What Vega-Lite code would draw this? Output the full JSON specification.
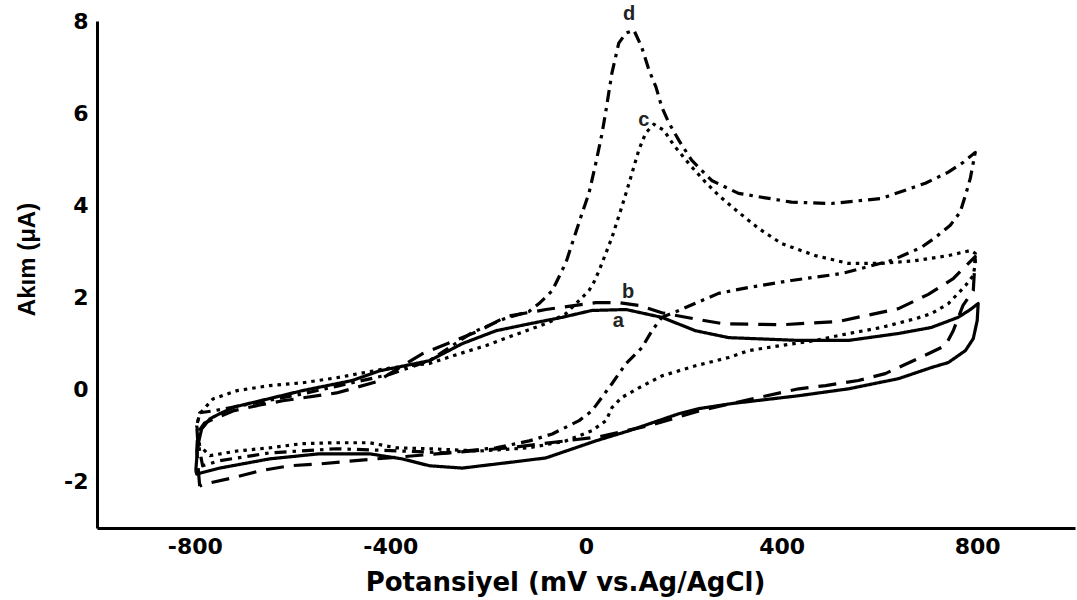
{
  "$schema": "https://vega.github.io/schema/vega-lite/v6.json",
  "autosize": "none",
  "width": 978,
  "height": 507,
  "padding": {"left": 97, "top": 21, "right": 2, "bottom": 72},
  "background": "white",
  "config": {
    "view": {"stroke": null},
    "axis": {"grid": false, "ticks": false, "domainColor": "#000", "domainWidth": 3, "labelColor": "#000", "titleColor": "#000", "labelFont": "DejaVu Sans", "labelFontWeight": "bold", "labelFontSize": 22}
  },
  "datasets": {
    "cv": [
      {"c":"a","i":1,"v":-798,"I":-1.76},{"c":"a","i":2,"v":-794,"I":-1.22},{"c":"a","i":3,"v":-786,"I":-0.85},{"c":"a","i":4,"v":-769,"I":-0.63},{"c":"a","i":5,"v":-749,"I":-0.52},{"c":"a","i":6,"v":-718,"I":-0.37},{"c":"a","i":7,"v":-682,"I":-0.28},{"c":"a","i":8,"v":-580,"I":-0.02},{"c":"a","i":9,"v":-478,"I":0.2},{"c":"a","i":10,"v":-422,"I":0.41},{"c":"a","i":11,"v":-320,"I":0.63},{"c":"a","i":12,"v":-253,"I":1.0},{"c":"a","i":13,"v":-184,"I":1.28},{"c":"a","i":14,"v":-116,"I":1.43},{"c":"a","i":15,"v":-49,"I":1.57},{"c":"a","i":16,"v":12,"I":1.72},{"c":"a","i":17,"v":82,"I":1.74},{"c":"a","i":18,"v":155,"I":1.57},{"c":"a","i":19,"v":224,"I":1.28},{"c":"a","i":20,"v":292,"I":1.13},{"c":"a","i":21,"v":435,"I":1.07},{"c":"a","i":22,"v":537,"I":1.07},{"c":"a","i":23,"v":639,"I":1.22},{"c":"a","i":24,"v":706,"I":1.35},{"c":"a","i":25,"v":761,"I":1.57},{"c":"a","i":26,"v":786,"I":1.74},{"c":"a","i":27,"v":802,"I":1.87},{"c":"a","i":28,"v":800,"I":1.5},{"c":"a","i":29,"v":792,"I":1.11},{"c":"a","i":30,"v":776,"I":0.85},{"c":"a","i":31,"v":741,"I":0.59},{"c":"a","i":32,"v":706,"I":0.48},{"c":"a","i":33,"v":639,"I":0.24},{"c":"a","i":34,"v":537,"I":0.02},{"c":"a","i":35,"v":435,"I":-0.13},{"c":"a","i":36,"v":298,"I":-0.3},{"c":"a","i":37,"v":231,"I":-0.41},{"c":"a","i":38,"v":190,"I":-0.52},{"c":"a","i":39,"v":88,"I":-0.89},{"c":"a","i":40,"v":20,"I":-1.11},{"c":"a","i":41,"v":-82,"I":-1.48},{"c":"a","i":42,"v":-151,"I":-1.57},{"c":"a","i":43,"v":-253,"I":-1.7},{"c":"a","i":44,"v":-320,"I":-1.65},{"c":"a","i":45,"v":-376,"I":-1.5},{"c":"a","i":46,"v":-443,"I":-1.39},{"c":"a","i":47,"v":-545,"I":-1.39},{"c":"a","i":48,"v":-647,"I":-1.5},{"c":"a","i":49,"v":-749,"I":-1.7},{"c":"a","i":50,"v":-796,"I":-1.83},{"c":"a","i":51,"v":-798,"I":-1.76},

      {"c":"b","i":1,"v":-790,"I":-2.09},{"c":"b","i":2,"v":-796,"I":-1.33},{"c":"b","i":3,"v":-794,"I":-0.93},{"c":"b","i":4,"v":-780,"I":-0.72},{"c":"b","i":5,"v":-722,"I":-0.46},{"c":"b","i":6,"v":-667,"I":-0.33},{"c":"b","i":7,"v":-620,"I":-0.24},{"c":"b","i":8,"v":-510,"I":-0.07},{"c":"b","i":9,"v":-429,"I":0.17},{"c":"b","i":10,"v":-335,"I":0.78},{"c":"b","i":11,"v":-218,"I":1.28},{"c":"b","i":12,"v":-163,"I":1.59},{"c":"b","i":13,"v":-82,"I":1.74},{"c":"b","i":14,"v":20,"I":1.89},{"c":"b","i":15,"v":67,"I":1.89},{"c":"b","i":16,"v":108,"I":1.83},{"c":"b","i":17,"v":155,"I":1.67},{"c":"b","i":18,"v":231,"I":1.52},{"c":"b","i":19,"v":282,"I":1.43},{"c":"b","i":20,"v":400,"I":1.41},{"c":"b","i":21,"v":516,"I":1.48},{"c":"b","i":22,"v":639,"I":1.76},{"c":"b","i":23,"v":700,"I":2.07},{"c":"b","i":24,"v":751,"I":2.41},{"c":"b","i":25,"v":778,"I":2.7},{"c":"b","i":26,"v":796,"I":2.89},{"c":"b","i":27,"v":792,"I":2.15},{"c":"b","i":28,"v":771,"I":1.83},{"c":"b","i":29,"v":751,"I":1.28},{"c":"b","i":30,"v":735,"I":0.96},{"c":"b","i":31,"v":700,"I":0.78},{"c":"b","i":32,"v":612,"I":0.35},{"c":"b","i":33,"v":557,"I":0.2},{"c":"b","i":34,"v":490,"I":0.09},{"c":"b","i":35,"v":435,"I":0.02},{"c":"b","i":36,"v":353,"I":-0.17},{"c":"b","i":37,"v":231,"I":-0.46},{"c":"b","i":38,"v":129,"I":-0.78},{"c":"b","i":39,"v":27,"I":-1.02},{"c":"b","i":40,"v":-157,"I":-1.26},{"c":"b","i":41,"v":-280,"I":-1.37},{"c":"b","i":42,"v":-382,"I":-1.46},{"c":"b","i":43,"v":-453,"I":-1.52},{"c":"b","i":44,"v":-545,"I":-1.61},{"c":"b","i":45,"v":-606,"I":-1.65},{"c":"b","i":46,"v":-667,"I":-1.76},{"c":"b","i":47,"v":-722,"I":-1.91},{"c":"b","i":48,"v":-769,"I":-2.02},{"c":"b","i":49,"v":-790,"I":-2.09},

      {"c":"c","i":1,"v":-790,"I":-1.22},{"c":"c","i":2,"v":-796,"I":-0.78},{"c":"c","i":3,"v":-790,"I":-0.52},{"c":"c","i":4,"v":-763,"I":-0.2},{"c":"c","i":5,"v":-714,"I":-0.02},{"c":"c","i":6,"v":-647,"I":0.09},{"c":"c","i":7,"v":-580,"I":0.15},{"c":"c","i":8,"v":-510,"I":0.26},{"c":"c","i":9,"v":-408,"I":0.46},{"c":"c","i":10,"v":-320,"I":0.57},{"c":"c","i":11,"v":-253,"I":0.8},{"c":"c","i":12,"v":-204,"I":0.96},{"c":"c","i":13,"v":-151,"I":1.17},{"c":"c","i":14,"v":-122,"I":1.28},{"c":"c","i":15,"v":-76,"I":1.46},{"c":"c","i":16,"v":-41,"I":1.65},{"c":"c","i":17,"v":-29,"I":1.78},{"c":"c","i":18,"v":-8,"I":2.0},{"c":"c","i":19,"v":6,"I":2.15},{"c":"c","i":20,"v":16,"I":2.33},{"c":"c","i":21,"v":27,"I":2.59},{"c":"c","i":22,"v":53,"I":3.3},{"c":"c","i":23,"v":73,"I":3.96},{"c":"c","i":24,"v":88,"I":4.48},{"c":"c","i":25,"v":108,"I":5.2},{"c":"c","i":26,"v":122,"I":5.57},{"c":"c","i":27,"v":139,"I":5.76},{"c":"c","i":28,"v":159,"I":5.63},{"c":"c","i":29,"v":180,"I":5.3},{"c":"c","i":30,"v":210,"I":4.91},{"c":"c","i":31,"v":241,"I":4.54},{"c":"c","i":32,"v":271,"I":4.22},{"c":"c","i":33,"v":312,"I":3.85},{"c":"c","i":34,"v":353,"I":3.5},{"c":"c","i":35,"v":400,"I":3.17},{"c":"c","i":36,"v":469,"I":2.91},{"c":"c","i":37,"v":537,"I":2.74},{"c":"c","i":38,"v":604,"I":2.74},{"c":"c","i":39,"v":673,"I":2.8},{"c":"c","i":40,"v":741,"I":2.91},{"c":"c","i":41,"v":786,"I":3.02},{"c":"c","i":42,"v":796,"I":2.96},{"c":"c","i":43,"v":796,"I":2.74},{"c":"c","i":44,"v":792,"I":2.48},{"c":"c","i":45,"v":776,"I":2.26},{"c":"c","i":46,"v":761,"I":2.09},{"c":"c","i":47,"v":741,"I":1.87},{"c":"c","i":48,"v":706,"I":1.65},{"c":"c","i":49,"v":673,"I":1.54},{"c":"c","i":50,"v":604,"I":1.35},{"c":"c","i":51,"v":537,"I":1.22},{"c":"c","i":52,"v":469,"I":1.07},{"c":"c","i":53,"v":400,"I":0.96},{"c":"c","i":54,"v":333,"I":0.85},{"c":"c","i":55,"v":292,"I":0.7},{"c":"c","i":56,"v":224,"I":0.52},{"c":"c","i":57,"v":155,"I":0.3},{"c":"c","i":58,"v":108,"I":0.04},{"c":"c","i":59,"v":73,"I":-0.17},{"c":"c","i":60,"v":53,"I":-0.39},{"c":"c","i":61,"v":41,"I":-0.67},{"c":"c","i":62,"v":12,"I":-0.89},{"c":"c","i":63,"v":-41,"I":-1.11},{"c":"c","i":64,"v":-116,"I":-1.26},{"c":"c","i":65,"v":-218,"I":-1.33},{"c":"c","i":66,"v":-320,"I":-1.28},{"c":"c","i":67,"v":-388,"I":-1.26},{"c":"c","i":68,"v":-443,"I":-1.15},{"c":"c","i":69,"v":-510,"I":-1.15},{"c":"c","i":70,"v":-580,"I":-1.17},{"c":"c","i":71,"v":-647,"I":-1.26},{"c":"c","i":72,"v":-714,"I":-1.33},{"c":"c","i":73,"v":-769,"I":-1.43},{"c":"c","i":74,"v":-790,"I":-1.22},

      {"c":"d","i":1,"v":-794,"I":-1.11},{"c":"d","i":2,"v":-796,"I":-0.78},{"c":"d","i":3,"v":-790,"I":-0.5},{"c":"d","i":4,"v":-763,"I":-0.46},{"c":"d","i":5,"v":-708,"I":-0.35},{"c":"d","i":6,"v":-653,"I":-0.24},{"c":"d","i":7,"v":-580,"I":-0.09},{"c":"d","i":8,"v":-504,"I":0.09},{"c":"d","i":9,"v":-402,"I":0.33},{"c":"d","i":10,"v":-320,"I":0.63},{"c":"d","i":11,"v":-233,"I":1.24},{"c":"d","i":12,"v":-167,"I":1.54},{"c":"d","i":13,"v":-116,"I":1.7},{"c":"d","i":14,"v":-96,"I":1.87},{"c":"d","i":15,"v":-69,"I":2.15},{"c":"d","i":16,"v":-41,"I":2.76},{"c":"d","i":17,"v":-8,"I":3.83},{"c":"d","i":18,"v":6,"I":4.26},{"c":"d","i":19,"v":20,"I":4.91},{"c":"d","i":20,"v":33,"I":5.57},{"c":"d","i":21,"v":41,"I":6.07},{"c":"d","i":22,"v":53,"I":6.87},{"c":"d","i":23,"v":67,"I":7.52},{"c":"d","i":24,"v":82,"I":7.74},{"c":"d","i":25,"v":98,"I":7.8},{"c":"d","i":26,"v":114,"I":7.43},{"c":"d","i":27,"v":129,"I":6.93},{"c":"d","i":28,"v":143,"I":6.57},{"c":"d","i":29,"v":155,"I":6.13},{"c":"d","i":30,"v":169,"I":5.8},{"c":"d","i":31,"v":190,"I":5.41},{"c":"d","i":32,"v":216,"I":4.98},{"c":"d","i":33,"v":257,"I":4.54},{"c":"d","i":34,"v":312,"I":4.26},{"c":"d","i":35,"v":420,"I":4.07},{"c":"d","i":36,"v":502,"I":4.04},{"c":"d","i":37,"v":604,"I":4.15},{"c":"d","i":38,"v":694,"I":4.48},{"c":"d","i":39,"v":741,"I":4.72},{"c":"d","i":40,"v":771,"I":4.93},{"c":"d","i":41,"v":796,"I":5.15},{"c":"d","i":42,"v":786,"I":4.59},{"c":"d","i":43,"v":776,"I":4.22},{"c":"d","i":44,"v":765,"I":3.85},{"c":"d","i":45,"v":745,"I":3.57},{"c":"d","i":46,"v":714,"I":3.3},{"c":"d","i":47,"v":686,"I":3.09},{"c":"d","i":48,"v":624,"I":2.8},{"c":"d","i":49,"v":522,"I":2.52},{"c":"d","i":50,"v":420,"I":2.37},{"c":"d","i":51,"v":333,"I":2.22},{"c":"d","i":52,"v":271,"I":2.09},{"c":"d","i":53,"v":190,"I":1.72},{"c":"d","i":54,"v":155,"I":1.57},{"c":"d","i":55,"v":135,"I":1.28},{"c":"d","i":56,"v":114,"I":0.91},{"c":"d","i":57,"v":82,"I":0.57},{"c":"d","i":58,"v":53,"I":0.13},{"c":"d","i":59,"v":12,"I":-0.46},{"c":"d","i":60,"v":-14,"I":-0.67},{"c":"d","i":61,"v":-69,"I":-0.96},{"c":"d","i":62,"v":-116,"I":-1.11},{"c":"d","i":63,"v":-184,"I":-1.26},{"c":"d","i":64,"v":-286,"I":-1.37},{"c":"d","i":65,"v":-376,"I":-1.33},{"c":"d","i":66,"v":-510,"I":-1.28},{"c":"d","i":67,"v":-647,"I":-1.37},{"c":"d","i":68,"v":-749,"I":-1.54},{"c":"d","i":69,"v":-784,"I":-1.65},{"c":"d","i":70,"v":-794,"I":-1.11}
    ],
    "labels": [
      {"c":"a","v":66,"I":1.5},
      {"c":"b","v":86,"I":2.12},
      {"c":"c","v":118,"I":5.85},
      {"c":"d","v":88,"I":8.15}
    ]
  },
  "layer": [
    {
      "data": {"name": "cv"},
      "mark": {"type": "line", "color": "#000", "strokeWidth": 3.2, "strokeCap": "butt", "strokeJoin": "round"},
      "encoding": {
        "x": {"field": "v", "type": "quantitative", "scale": {"domain": [-1000, 1000], "nice": false, "zero": false},
          "axis": {"values": [-800, -400, 0, 400, 800], "labelExpr": "datum.value < 0 ? '-' + abs(datum.value) : '' + datum.value", "labelPadding": 8, "title": "Potansiyel (mV vs.Ag/AgCl)", "titleFont": "DejaVu Sans", "titleFontWeight": "bold", "titleFontSize": 26, "titleX": 468, "titleY": 62, "titleBaseline": "alphabetic"}},
        "y": {"field": "I", "type": "quantitative", "scale": {"domain": [-3, 8], "nice": false, "zero": false},
          "axis": {"values": [-2, 0, 2, 4, 6, 8], "labelExpr": "datum.value < 0 ? '-' + abs(datum.value) : '' + datum.value", "labelPadding": 9, "title": "Akım (μA)", "titleFont": "Liberation Sans", "titleFontWeight": "bold", "titleFontSize": 24, "titleX": -70, "titleY": 238, "titleBaseline": "middle"}},
        "order": {"field": "i", "type": "quantitative"},
        "detail": {"field": "c"},
        "strokeDash": {"field": "c", "type": "nominal", "legend": null,
          "scale": {"domain": ["a", "b", "c", "d"], "range": [[1, 0], [18, 10], [3.5, 5], [12, 6, 3.5, 6]]}}
      }
    },
    {
      "data": {"name": "labels"},
      "mark": {"type": "text", "font": "Liberation Sans", "fontSize": 20, "fontWeight": "bold", "color": "#222", "align": "center", "baseline": "middle", "clip": false},
      "encoding": {
        "x": {"field": "v", "type": "quantitative"},
        "y": {"field": "I", "type": "quantitative"},
        "text": {"field": "c"}
      }
    }
  ]
}
